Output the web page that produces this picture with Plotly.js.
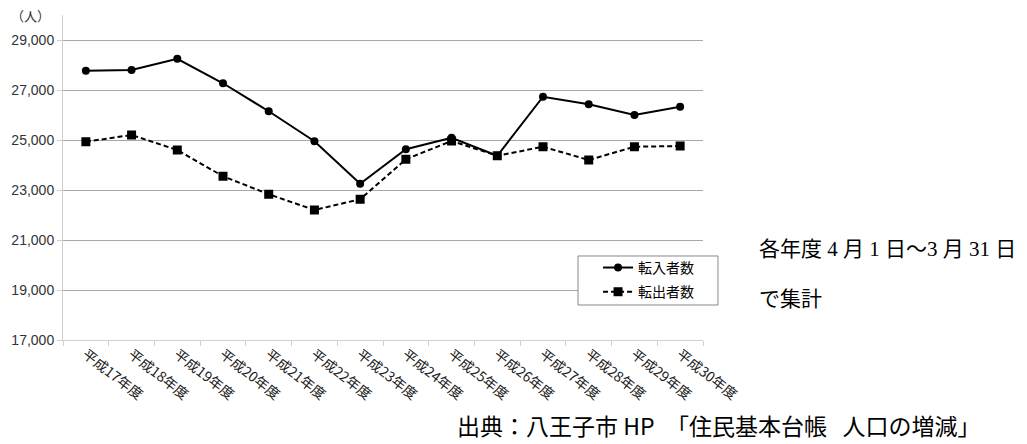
<!DOCTYPE html>
<html>
<head>
<meta charset="utf-8">
<script src="https://cdn.plot.ly/plotly-3.0.1.min.js"></script>
<style>html,body{margin:0;padding:0;background:#fff;}#chart{width:1027px;height:444px;}</style>
</head>
<body>
<div id="chart"></div>
<script>
const categories = ['平成17年度','平成18年度','平成19年度','平成20年度','平成21年度','平成22年度','平成23年度','平成24年度','平成25年度','平成26年度','平成27年度','平成28年度','平成29年度','平成30年度'];
const tennyu = [27770, 27800, 28250, 27270, 26150, 24950, 23250, 24630, 25090, 24370, 26730, 26430, 26000, 26330];
const tenshutsu = [24930, 25200, 24600, 23550, 22830, 22200, 22630, 24230, 24960, 24370, 24730, 24200, 24730, 24760];
const seriesNames = ['転入者数', '転出者数'];

const jp = '"Noto Sans CJK JP", "Liberation Sans", sans-serif';
const serifJp = '"Liberation Serif", "Noto Sans CJK JP", serif';
const traces = [
  {x: categories, y: tennyu, name: seriesNames[0], legendgroup: 'a', type: 'scatter', mode: 'lines+markers',
   line: {color: '#000', width: 2}, marker: {symbol: 'circle', size: 8, color: '#000'}},
  {x: categories, y: tenshutsu, name: seriesNames[1], legendgroup: 'b', type: 'scatter', mode: 'lines+markers',
   line: {color: '#000', width: 2, dash: '5px,3px'}, marker: {symbol: 'square', size: 9, color: '#000'}}
];
const layout = {
  width: 1027, height: 444,
  margin: {l: 63, r: 324, t: 15, b: 104},
  paper_bgcolor: '#fff', plot_bgcolor: '#fff',
  showlegend: true,
  legend: {x: 0.836, xanchor: 'left', y: 0.271, yanchor: 'top', bgcolor: 'rgba(0,0,0,0)',
    borderwidth: 0, font: {family: jp, size: 14, color: '#000'},
    itemwidth: 30, tracegroupgap: 3},
  xaxis: {type: 'category', range: [-0.5, 13.5], tickson: 'boundaries', ticks: 'outside', ticklen: 5, tickcolor: '#d0d0d0',
    showline: true, linecolor: '#d0d0d0', linewidth: 1, showgrid: false, tickangle: 38,
    tickfont: {family: jp, size: 14, color: '#222'}, fixedrange: true},
  yaxis: {range: [17000, 30000], tick0: 17000, dtick: 2000, tickformat: ',d', ticks: 'outside', ticklen: 5,
    tickcolor: '#d0d0d0', showline: true, linecolor: '#d0d0d0', linewidth: 1, gridcolor: '#a8a8a8',
    zeroline: false, tickfont: {family: '"Liberation Sans", Arial, sans-serif', size: 14, color: '#333'}},
  shapes: [
    {type: 'rect', xref: 'paper', yref: 'paper', x0: 0.8047, x1: 1.0234, y0: 0.1077, y1: 0.2585,
     line: {color: '#888', width: 1}, fillcolor: '#fff', layer: 'above'}
  ],
  annotations: [
    {text: '（人）', xref: 'paper', yref: 'paper', x: -0.085, y: 1.0, xanchor: 'left', yanchor: 'middle',
     showarrow: false, font: {family: jp, size: 13, color: '#333'}},
    {text: '各年度 4 月 1 日～3 月 31 日', xref: 'paper', yref: 'paper', x: 1.085, y: 0.28, xanchor: 'left', yanchor: 'middle',
     showarrow: false, font: {family: serifJp, size: 21, color: '#000'}},
    {text: 'で集計', xref: 'paper', yref: 'paper', x: 1.085, y: 0.126, xanchor: 'left', yanchor: 'middle',
     showarrow: false, font: {family: serifJp, size: 21, color: '#000'}},
    {text: '出典：八王子市 HP\u3000「住民基本台帳\u00a0\u00a0\u00a0人口の増減」', xref: 'paper', yref: 'paper', x: 0.612, y: -0.262, xanchor: 'left', yanchor: 'middle',
     showarrow: false, font: {family: jp, size: 23, color: '#000'}}
  ]
};
Plotly.newPlot('chart', traces, layout, {displayModeBar: false, staticPlot: true});
</script>
</body>
</html>
